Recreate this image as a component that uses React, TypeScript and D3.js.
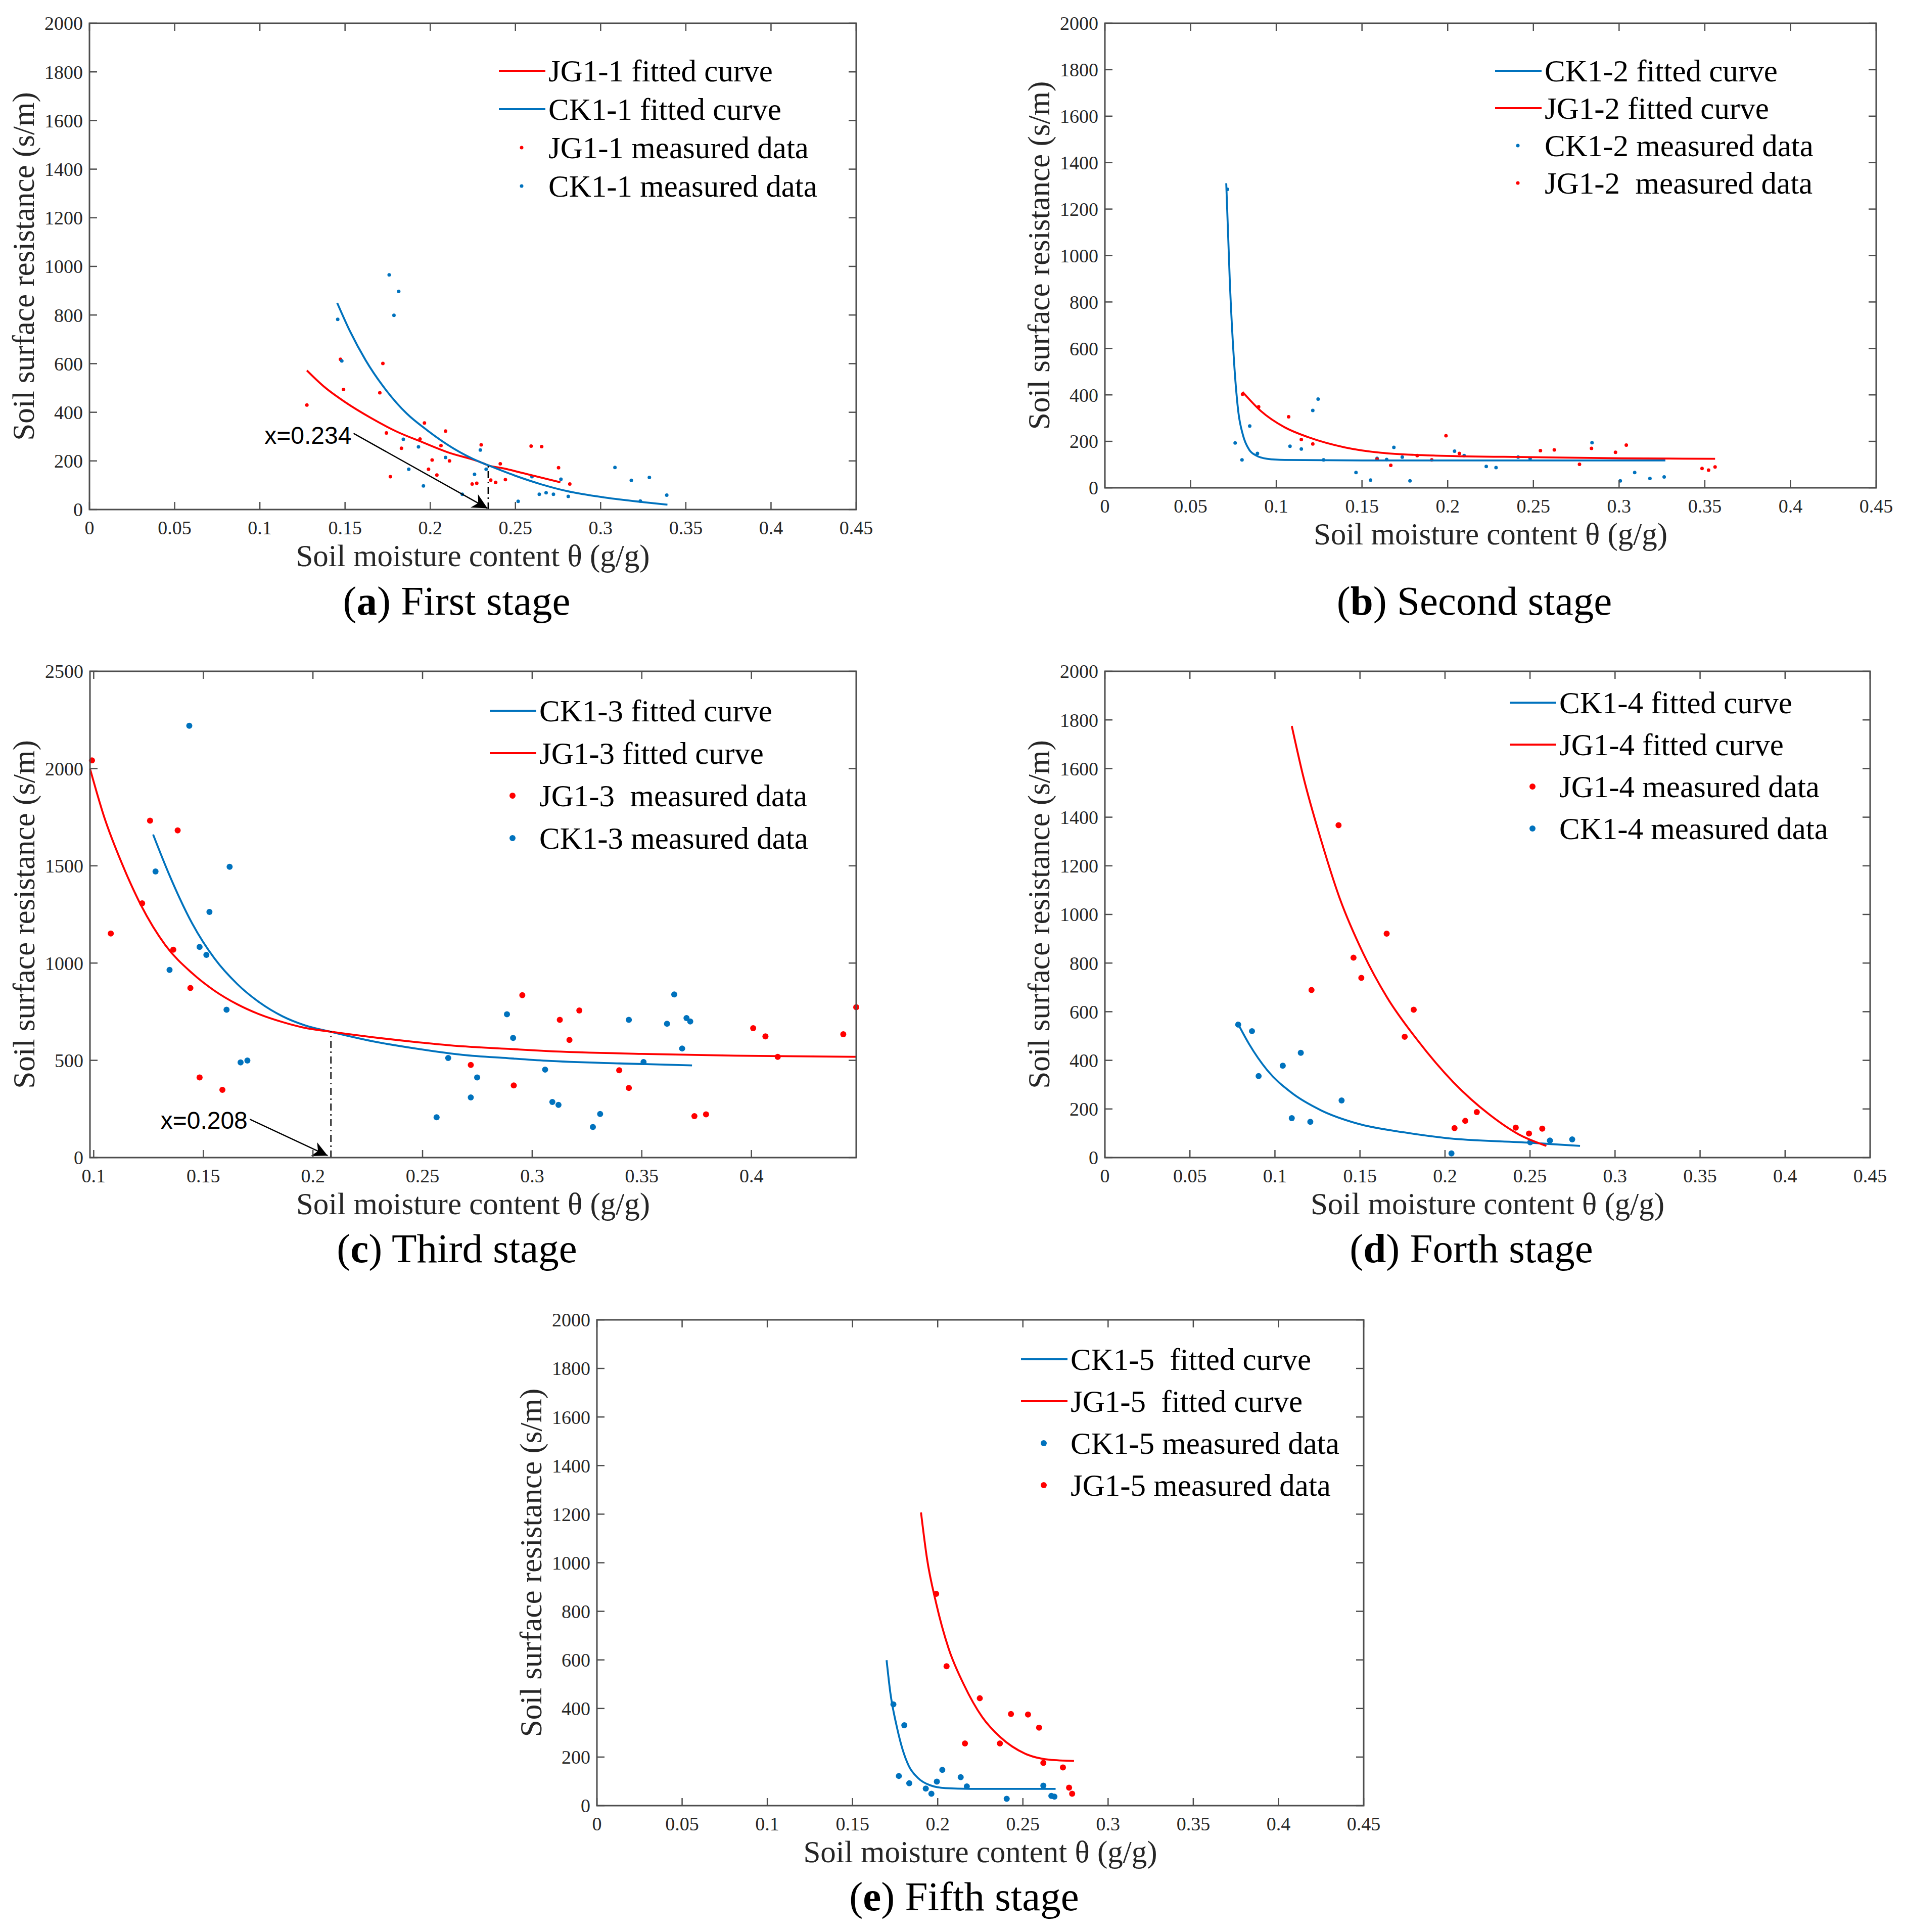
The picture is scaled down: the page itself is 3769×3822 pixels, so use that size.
import React from 'react';
import * as d3 from 'd3';

type Pt = [number, number];

// ---------- (a) First stage ----------
const ck11Measured: Pt[] = [
  [0.1457, 782], [0.1481, 611], [0.1759, 965], [0.1815, 897], [0.1787, 799],
  [0.1842, 289], [0.1931, 258], [0.1874, 166], [0.196, 97], [0.209, 214],
  [0.2188, 63], [0.226, 145], [0.2294, 245], [0.2328, 166], [0.2516, 34],
  [0.2597, 135], [0.264, 63], [0.268, 69], [0.2723, 63], [0.2767, 125],
  [0.281, 54], [0.3084, 173], [0.318, 120], [0.3286, 132], [0.3233, 35], [0.3388, 59],
];
const jg11Measured: Pt[] = [
  [0.1276, 430], [0.1473, 618], [0.1491, 494], [0.1722, 601], [0.1704, 480],
  [0.1743, 315], [0.1766, 135], [0.1831, 252], [0.194, 290], [0.1966, 356],
  [0.199, 166], [0.2011, 204], [0.2039, 142], [0.2063, 263], [0.209, 323],
  [0.2113, 200], [0.2246, 105], [0.2273, 108], [0.2299, 266], [0.2355, 121],
  [0.2384, 112], [0.2411, 188], [0.2441, 123], [0.2592, 261], [0.2654, 259],
  [0.2753, 172], [0.2819, 105],
];
const ck11Curve: Pt[] = [
  [0.1454, 850], [0.153, 732], [0.1621, 614], [0.1742, 490], [0.1863, 394],
  [0.1984, 325], [0.2135, 252], [0.2287, 197], [0.234, 182], [0.2499, 139],
  [0.265, 104], [0.2801, 76], [0.3028, 49], [0.3256, 30], [0.3392, 20],
];
const jg11Curve: Pt[] = [
  [0.1276, 572], [0.1379, 504], [0.15, 442], [0.1651, 377], [0.1802, 321],
  [0.1954, 277], [0.2105, 235], [0.2287, 197], [0.234, 182], [0.2438, 168],
  [0.2589, 142], [0.2764, 112],
];

// ---------- (b) Second stage ----------
const ck12Measured: Pt[] = [
  [0.0715, 1285], [0.076, 193], [0.08, 120], [0.0845, 266], [0.089, 148],
  [0.108, 179], [0.1146, 167], [0.1213, 333], [0.1244, 382], [0.1276, 120],
  [0.1465, 66], [0.155, 33], [0.1588, 127], [0.1644, 122], [0.1686, 174],
  [0.1735, 132], [0.178, 30], [0.204, 158], [0.2096, 139], [0.2225, 92],
  [0.2282, 87], [0.2411, 132], [0.2481, 127], [0.2842, 194], [0.3007, 30],
  [0.3091, 66], [0.318, 40], [0.3263, 47],
];
const jg12Measured: Pt[] = [
  [0.0803, 403], [0.0897, 349], [0.1072, 306], [0.1146, 208], [0.1213, 189],
  [0.1588, 123], [0.1668, 97], [0.1822, 139], [0.1907, 120], [0.199, 224],
  [0.2068, 148], [0.2541, 160], [0.2622, 163], [0.2769, 101], [0.2839, 170],
  [0.2979, 153], [0.3042, 184], [0.3484, 83], [0.3522, 76], [0.356, 90],
];
const ck12Curve: Pt[] = [
  [0.0708, 1311], [0.0729, 885], [0.0754, 538], [0.0778, 330], [0.0806, 226],
  [0.0841, 165], [0.0883, 139], [0.0946, 125], [0.105, 120], [0.15, 118],
  [0.25, 118], [0.327, 118],
];
const jg12Curve: Pt[] = [
  [0.0803, 413], [0.0911, 330], [0.105, 260], [0.119, 217], [0.14, 174],
  [0.161, 151], [0.196, 138], [0.249, 132], [0.301, 127], [0.356, 125],
];

// ---------- (c) Third stage ----------
const ck13Measured: Pt[] = [
  [0.1436, 2220], [0.1282, 1471], [0.162, 1495], [0.1528, 1263], [0.1483, 1083],
  [0.1514, 1042], [0.1346, 965], [0.1606, 760], [0.167, 489], [0.1701, 499],
  [0.2564, 207], [0.2617, 512], [0.272, 309], [0.2749, 412], [0.2885, 737],
  [0.2913, 615], [0.3059, 452], [0.3092, 286], [0.312, 271], [0.3277, 157],
  [0.331, 224], [0.3441, 708], [0.3508, 491], [0.3615, 688], [0.3648, 839],
  [0.3684, 561], [0.3704, 717], [0.3721, 700],
];
const jg13Measured: Pt[] = [
  [0.0992, 2042], [0.1078, 1152], [0.1221, 1307], [0.1257, 1732], [0.1363, 1069],
  [0.1383, 1682], [0.1441, 872], [0.1483, 412], [0.1587, 348], [0.272, 476],
  [0.2916, 371], [0.2955, 835], [0.3126, 708], [0.317, 605], [0.3215, 756],
  [0.3397, 449], [0.3441, 358], [0.374, 213], [0.3793, 222], [0.4008, 665],
  [0.4064, 623], [0.412, 518], [0.4419, 634], [0.4478, 773],
];
const ck13Curve: Pt[] = [
  [0.1271, 1661], [0.1341, 1464], [0.1449, 1204], [0.1552, 1022],
  [0.1655, 892], [0.1757, 797], [0.186, 727], [0.1963, 680], [0.2076, 648],
  [0.2272, 598], [0.2478, 559], [0.2684, 528], [0.289, 511], [0.3063, 498],
  [0.34, 484], [0.3729, 474],
];
const jg13Curve: Pt[] = [
  [0.0983, 2000], [0.1047, 1754], [0.1131, 1506], [0.1215, 1299], [0.1327, 1092],
  [0.1449, 948], [0.1552, 857], [0.1655, 788], [0.1757, 736], [0.186, 697],
  [0.1963, 667], [0.2076, 648], [0.2272, 619], [0.2478, 593], [0.2684, 572],
  [0.289, 559], [0.3063, 548], [0.35, 533], [0.3925, 524], [0.4478, 518],
];

// ---------- (d) Forth stage ----------
const ck14Measured: Pt[] = [
  [0.0784, 547], [0.0865, 520], [0.0904, 335], [0.1046, 378], [0.1099, 162],
  [0.1152, 431], [0.1208, 147], [0.1392, 235], [0.2038, 17], [0.2501, 63],
  [0.2617, 70], [0.2748, 75],
];
const jg14Measured: Pt[] = [
  [0.1215, 689], [0.1374, 1367], [0.1462, 822], [0.1508, 739], [0.1657, 921],
  [0.1763, 497], [0.1816, 608], [0.2056, 121], [0.2119, 151], [0.2187, 187],
  [0.2416, 123], [0.2494, 99], [0.2572, 119],
];
const ck14Curve: Pt[] = [
  [0.0777, 558], [0.0848, 467], [0.0954, 360], [0.1095, 268], [0.1272, 194],
  [0.1484, 140], [0.1766, 103], [0.2, 81], [0.25, 61], [0.2794, 48],
];
const jg14Curve: Pt[] = [
  [0.1099, 1775], [0.1166, 1569], [0.1272, 1304], [0.1378, 1072], [0.1519, 840],
  [0.166, 658], [0.1837, 484], [0.2049, 310], [0.2261, 177], [0.2437, 94], [0.2596, 48],
];

// ---------- (e) Fifth stage ----------
const ck15Measured: Pt[] = [
  [0.174, 417], [0.1772, 122], [0.1804, 331], [0.1833, 92], [0.193, 70],
  [0.1963, 49], [0.1995, 99], [0.2027, 147], [0.2135, 117], [0.2171, 79],
  [0.2405, 28], [0.262, 82], [0.2667, 40], [0.2685, 37],
];
const jg15Measured: Pt[] = [
  [0.1991, 872], [0.2052, 574], [0.216, 256], [0.2247, 442], [0.2365, 256],
  [0.243, 377], [0.253, 375], [0.2595, 321], [0.262, 176], [0.2735, 157],
  [0.2771, 74], [0.2789, 49],
];
const ck15Curve: Pt[] = [
  [0.17, 599], [0.1722, 465], [0.1758, 331], [0.1794, 231], [0.183, 164],
  [0.1884, 114], [0.1955, 84], [0.2045, 72], [0.2189, 69], [0.2692, 69],
];
const jg15Curve: Pt[] = [
  [0.1902, 1207], [0.1937, 1018], [0.1991, 833], [0.2063, 649], [0.2153, 499],
  [0.2261, 365], [0.2369, 281], [0.2513, 214], [0.2656, 189], [0.28, 184],
];

// ---------- ticks ----------
const xTicksFull = [0, 0.05, 0.1, 0.15, 0.2, 0.25, 0.3, 0.35, 0.4, 0.45];
const xTickLabelsFull = ['0', '0.05', '0.1', '0.15', '0.2', '0.25', '0.3', '0.35', '0.4', '0.45'];
const xTicksThird = [0.1, 0.15, 0.2, 0.25, 0.3, 0.35, 0.4];
const xTickLabelsThird = ['0.1', '0.15', '0.2', '0.25', '0.3', '0.35', '0.4'];
const yTicks2000 = [0, 200, 400, 600, 800, 1000, 1200, 1400, 1600, 1800, 2000];
const yTicks2500 = [0, 500, 1000, 1500, 2000, 2500];

const BLUE = '#0072BD';
const RED = '#FF0000';
const SERIF = '"Liberation Serif", "Times New Roman", serif';
const SANS = '"Liberation Sans", Arial, sans-serif';

interface LegendItem { label: string; color: string; kind: 'line' | 'dot' }
interface Note { label: string; textAt: Pt; from: Pt; to: Pt; cross: Pt }
interface PanelProps {
  box: { left: number; right: number; top: number; bottom: number };
  xDomain: [number, number];
  yDomain: [number, number];
  xTicks: number[];
  xLabels: string[];
  yTicks: number[];
  curves: { data: Pt[]; color: string }[];
  dots: { data: Pt[]; color: string }[];
  dotR: number;
  legend: LegendItem[];
  legendAt: { x: number; y: number; step: number };
  letter: string;
  title: string;
  captionY: number;
  note?: Note;
}

const TICK = 15;

function Panel(p: PanelProps) {
  const { box } = p;
  const x = d3.scaleLinear().domain(p.xDomain).range([box.left, box.right]);
  const y = d3.scaleLinear().domain(p.yDomain).range([box.bottom, box.top]);
  const line = d3.line<Pt>().x(d => x(d[0])).y(d => y(d[1])).curve(d3.curveMonotoneX);
  const cx = (box.left + box.right) / 2;
  const cy = (box.top + box.bottom) / 2;
  const axisColor = '#4d4d4d';

  return (
    <g>
      {/* data */}
      {p.dots.map((s, i) => (
        <g key={'d' + i} fill={s.color}>
          {s.data.map((d, j) => (
            <circle key={j} cx={x(d[0])} cy={y(d[1])} r={p.dotR} />
          ))}
        </g>
      ))}
      {p.curves.map((c, i) => (
        <path key={'c' + i} d={line(c.data) || ''} fill="none" stroke={c.color} strokeWidth={3.8} />
      ))}

      {/* annotation */}
      {p.note && (
        <g>
          <line
            x1={x(p.note.cross[0])} x2={x(p.note.cross[0])}
            y1={y(0)} y2={y(p.note.cross[1])}
            stroke="#000" strokeWidth={2.5} strokeDasharray="14,7,3,7"
          />
          <line
            x1={x(p.note.from[0])} y1={y(p.note.from[1])}
            x2={x(p.note.to[0])} y2={y(p.note.to[1])}
            stroke="#000" strokeWidth={2.5} markerEnd="url(#arrow)"
          />
          <text x={x(p.note.textAt[0])} y={y(p.note.textAt[1])} fontFamily={SANS} fontSize={48} fill="#000">
            {p.note.label}
          </text>
        </g>
      )}

      {/* box and ticks */}
      <rect x={box.left} y={box.top} width={box.right - box.left} height={box.bottom - box.top}
        fill="none" stroke={axisColor} strokeWidth={3} />
      {p.xTicks.map((t, i) => (
        <g key={'xt' + i}>
          <line x1={x(t)} x2={x(t)} y1={box.bottom} y2={box.bottom - TICK} stroke={axisColor} strokeWidth={2.5} />
          <line x1={x(t)} x2={x(t)} y1={box.top} y2={box.top + TICK} stroke={axisColor} strokeWidth={2.5} />
          <text x={x(t)} y={box.bottom + 49} textAnchor="middle" fontFamily={SERIF} fontSize={38} fill="#262626">
            {p.xLabels[i]}
          </text>
        </g>
      ))}
      {p.yTicks.map((t, i) => (
        <g key={'yt' + i}>
          <line x1={box.left} x2={box.left + TICK} y1={y(t)} y2={y(t)} stroke={axisColor} strokeWidth={2.5} />
          <line x1={box.right} x2={box.right - TICK} y1={y(t)} y2={y(t)} stroke={axisColor} strokeWidth={2.5} />
          <text x={box.left - 13} y={y(t)} dy="0.35em" textAnchor="end" fontFamily={SERIF} fontSize={38} fill="#262626">
            {t}
          </text>
        </g>
      ))}

      {/* axis labels */}
      <text x={cx} y={box.bottom + 112} textAnchor="middle" fontFamily={SERIF} fontSize={61} fill="#262626">
        Soil moisture content θ (g/g)
      </text>
      <text transform={`translate(${box.left - 110},${cy}) rotate(-90)`} textAnchor="middle"
        fontFamily={SERIF} fontSize={61} fill="#262626">
        Soil surface resistance (s/m)
      </text>

      {/* legend */}
      {p.legend.map((item, i) => {
        const ly = p.legendAt.y + i * p.legendAt.step;
        const lx = p.legendAt.x;
        return (
          <g key={'lg' + i}>
            {item.kind === 'line'
              ? <line x1={lx} x2={lx + 92} y1={ly} y2={ly} stroke={item.color} strokeWidth={3.8} />
              : <circle cx={lx + 45} cy={ly} r={p.dotR} fill={item.color} />}
            <text x={lx + 98} y={ly} dy="0.34em" fontFamily={SERIF} fontSize={61} fill="#000"
              style={{ whiteSpace: 'pre' }} xmlSpace="preserve">
              {item.label}
            </text>
          </g>
        );
      })}

      {/* caption */}
      <text x={cx - 32} y={p.captionY} textAnchor="middle" fontFamily={SERIF} fontSize={81} fill="#000">
        (<tspan fontWeight="bold">{p.letter}</tspan>) {p.title}
      </text>
    </g>
  );
}

export default function App() {
  return (
    <div>
      <style>{'body{margin:0}'}</style>
      <svg width={3769} height={3822} style={{ display: 'block', background: '#fff' }}>
        <defs>
          <marker id="arrow" viewBox="0 0 10 10" refX="10" refY="5" markerUnits="userSpaceOnUse"
            markerWidth={42} markerHeight={30} orient="auto">
            <path d="M0,0 L10,5 L0,10 L3,5 Z" fill="#000" />
          </marker>
        </defs>
        <rect width={3769} height={3822} fill="#fff" />

        <Panel
          box={{ left: 177, right: 1694, top: 46, bottom: 1008 }}
          xDomain={[0, 0.45]} yDomain={[0, 2000]}
          xTicks={xTicksFull} xLabels={xTickLabelsFull} yTicks={yTicks2000}
          dots={[{ data: jg11Measured, color: RED }, { data: ck11Measured, color: BLUE }]}
          curves={[{ data: jg11Curve, color: RED }, { data: ck11Curve, color: BLUE }]}
          dotR={3.5}
          legend={[
            { label: 'JG1-1 fitted curve', color: RED, kind: 'line' },
            { label: 'CK1-1 fitted curve', color: BLUE, kind: 'line' },
            { label: 'JG1-1 measured data', color: RED, kind: 'dot' },
            { label: 'CK1-1 measured data', color: BLUE, kind: 'dot' },
          ]}
          legendAt={{ x: 987, y: 140, step: 76 }}
          letter="a" title="First stage" captionY={1216}
          note={{ label: 'x=0.234', textAt: [0.1027, 270], from: [0.155, 313], to: [0.2336, 5], cross: [0.234, 182] }}
        />

        <Panel
          box={{ left: 2186, right: 3712, top: 46, bottom: 965 }}
          xDomain={[0, 0.45]} yDomain={[0, 2000]}
          xTicks={xTicksFull} xLabels={xTickLabelsFull} yTicks={yTicks2000}
          dots={[{ data: ck12Measured, color: BLUE }, { data: jg12Measured, color: RED }]}
          curves={[{ data: ck12Curve, color: BLUE }, { data: jg12Curve, color: RED }]}
          dotR={3.5}
          legend={[
            { label: 'CK1-2 fitted curve', color: BLUE, kind: 'line' },
            { label: 'JG1-2 fitted curve', color: RED, kind: 'line' },
            { label: 'CK1-2 measured data', color: BLUE, kind: 'dot' },
            { label: 'JG1-2  measured data', color: RED, kind: 'dot' },
          ]}
          legendAt={{ x: 2958, y: 140, step: 74 }}
          letter="b" title="Second stage" captionY={1216}
        />

        <Panel
          box={{ left: 178, right: 1694, top: 1328, bottom: 2290 }}
          xDomain={[0.0983, 0.4478]} yDomain={[0, 2500]}
          xTicks={xTicksThird} xLabels={xTickLabelsThird} yTicks={yTicks2500}
          dots={[{ data: jg13Measured, color: RED }, { data: ck13Measured, color: BLUE }]}
          curves={[{ data: ck13Curve, color: BLUE }, { data: jg13Curve, color: RED }]}
          dotR={6}
          legend={[
            { label: 'CK1-3 fitted curve', color: BLUE, kind: 'line' },
            { label: 'JG1-3 fitted curve', color: RED, kind: 'line' },
            { label: 'JG1-3  measured data', color: RED, kind: 'dot' },
            { label: 'CK1-3 measured data', color: BLUE, kind: 'dot' },
          ]}
          legendAt={{ x: 969, y: 1406, step: 84 }}
          letter="c" title="Third stage" captionY={2497}
          note={{ label: 'x=0.208', textAt: [0.1305, 149], from: [0.1712, 197], to: [0.2067, 10], cross: [0.2082, 650] }}
        />

        <Panel
          box={{ left: 2186, right: 3700, top: 1328, bottom: 2290 }}
          xDomain={[0, 0.45]} yDomain={[0, 2000]}
          xTicks={xTicksFull} xLabels={xTickLabelsFull} yTicks={yTicks2000}
          dots={[{ data: jg14Measured, color: RED }, { data: ck14Measured, color: BLUE }]}
          curves={[{ data: ck14Curve, color: BLUE }, { data: jg14Curve, color: RED }]}
          dotR={6}
          legend={[
            { label: 'CK1-4 fitted curve', color: BLUE, kind: 'line' },
            { label: 'JG1-4 fitted curve', color: RED, kind: 'line' },
            { label: 'JG1-4 measured data', color: RED, kind: 'dot' },
            { label: 'CK1-4 measured data', color: BLUE, kind: 'dot' },
          ]}
          legendAt={{ x: 2987, y: 1390, step: 83 }}
          letter="d" title="Forth stage" captionY={2497}
        />

        <Panel
          box={{ left: 1181, right: 2698, top: 2611, bottom: 3572 }}
          xDomain={[0, 0.45]} yDomain={[0, 2000]}
          xTicks={xTicksFull} xLabels={xTickLabelsFull} yTicks={yTicks2000}
          dots={[{ data: ck15Measured, color: BLUE }, { data: jg15Measured, color: RED }]}
          curves={[{ data: ck15Curve, color: BLUE }, { data: jg15Curve, color: RED }]}
          dotR={6}
          legend={[
            { label: 'CK1-5  fitted curve', color: BLUE, kind: 'line' },
            { label: 'JG1-5  fitted curve', color: RED, kind: 'line' },
            { label: 'CK1-5 measured data', color: BLUE, kind: 'dot' },
            { label: 'JG1-5 measured data', color: RED, kind: 'dot' },
          ]}
          legendAt={{ x: 2020, y: 2689, step: 83 }}
          letter="e" title="Fifth stage" captionY={3779}
        />
      </svg>
    </div>
  );
}
